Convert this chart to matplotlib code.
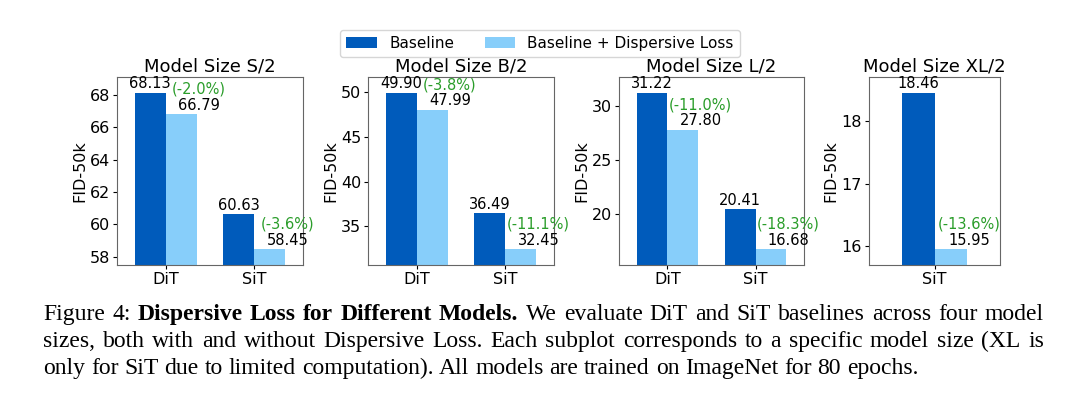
import matplotlib
matplotlib.use('Agg')
import matplotlib.pyplot as plt
import matplotlib.transforms as mtransforms
import numpy as np

# data
sizes = ['S/2', 'B/2', 'L/2', 'XL/2']
models = [['DiT', 'SiT'], ['DiT', 'SiT'], ['DiT', 'SiT'], ['SiT']]
baseline = [[68.13, 60.63], [49.90, 36.49], [31.22, 20.41], [18.46]]
dispersive = [[66.79, 58.45], [47.99, 32.45], [27.80, 16.68], [15.95]]
pct = [['(-2.0%)', '(-3.6%)'], ['(-3.8%)', '(-11.1%)'], ['(-11.0%)', '(-18.3%)'], ['(-13.6%)']]
yticks = [[58, 60, 62, 64, 66, 68], [35, 40, 45, 50], [20, 25, 30], [16, 17, 18]]

W, H = 1080, 399
dark = '#005bbb'
light = '#87cefa'
green = '#2a9d2a'
w = 0.35
fs = 10.5

fig = plt.figure(figsize=(W / 100, H / 100), dpi=100)

# axes boxes in pixels: left, right, top, bottom
boxes = [(117, 303, 77, 265), (368, 554, 77, 265), (619, 804, 77, 265), (869, 1000, 77, 265)]
xlims = [(-0.55, 1.55), (-0.55, 1.55), (-0.55, 1.55), (-0.7, 0.7)]

axes = []
for i, (l, r, t, b) in enumerate(boxes):
    ax = fig.add_axes([l / W, 1 - b / H, (r - l) / W, (b - t) / H])
    axes.append(ax)
    x = np.arange(len(models[i]))
    ax.bar(x - w / 2, baseline[i], w, color=dark, label='Baseline')
    ax.bar(x + w / 2, dispersive[i], w, color=light, label='Baseline + Dispersive Loss')
    for xi, v in zip(x - w / 2, baseline[i]):
        ax.annotate('%.2f' % v, (xi, v), xytext=(0, 1), textcoords='offset points',
                    ha='center', va='bottom', fontsize=fs)
    # the dispersive value and its change sit a bit right of the bar
    for xi, v, p in zip(x + w / 2, dispersive[i], pct[i]):
        ax.annotate('%.2f' % v, (xi + 0.2, v), xytext=(0, 1), textcoords='offset points',
                    ha='center', va='bottom', fontsize=fs)
        ax.annotate(p, (xi + 0.2, v), xytext=(0, 12.5), textcoords='offset points',
                    ha='center', va='bottom', fontsize=fs, color=green)
    lo = min(dispersive[i])
    hi = max(baseline[i])
    rng = hi - lo
    ax.set_ylim(lo - 0.1 * rng, hi + 0.1 * rng)
    ax.set_xlim(*xlims[i])
    ax.set_xticks(x, models[i])
    ax.set_yticks(yticks[i])
    ax.tick_params(labelsize=11.5, length=3, pad=2)
    ax.set_ylabel('FID-50k', fontsize=11.5, labelpad=2)
    ax.set_title('Model Size ' + sizes[i], fontsize=13, pad=4)
    for s in ax.spines.values():
        s.set_color('0.4')

h, lab = axes[0].get_legend_handles_labels()
fig.legend(h, lab, loc='upper center', bbox_to_anchor=(0.5, 1 - 30 / H), ncol=2,
           fontsize=11, borderaxespad=0)

# caption, justified like the paper
caption = [
    [('Figure 4:', 'normal'), ('Dispersive Loss for Different Models.', 'bold'),
     ('We evaluate DiT and SiT baselines across four model', 'normal')],
    [('sizes, both with and without Dispersive Loss. Each subplot corresponds to a specific model size (XL is', 'normal')],
    [('only for SiT due to limited computation). All models are trained on ImageNet for 80 epochs.', 'normal')],
]
baselines_px = [320, 347, 374]
x0, x1 = 43, 1044
cfs = 17
ident = mtransforms.IdentityTransform()
renderer = fig.canvas.get_renderer()
sp = fig.text(0, 0, 'a a', fontsize=cfs, family='Liberation Serif', transform=ident)
sp2 = fig.text(0, 0, 'aa', fontsize=cfs, family='Liberation Serif', transform=ident)
space = sp.get_window_extent(renderer).width - sp2.get_window_extent(renderer).width
sp.remove()
sp2.remove()

for li, line in enumerate(caption):
    words = []
    for seg, wt in line:
        for wd in seg.split(' '):
            words.append((wd, wt))
    objs = []
    for wd, wt in words:
        t = fig.text(0, H - baselines_px[li], wd, fontsize=cfs, family='Liberation Serif',
                     weight=wt, va='baseline', transform=ident)
        objs.append(t)
    widths = [t.get_window_extent(renderer).width for t in objs]
    if li < len(caption) - 1:
        gap = (x1 - x0 - sum(widths)) / (len(objs) - 1)
    else:
        gap = space
    xp = x0
    for t, wd in zip(objs, widths):
        t.set_x(xp)
        xp += wd + gap

fig.savefig('out.png', dpi=100)
